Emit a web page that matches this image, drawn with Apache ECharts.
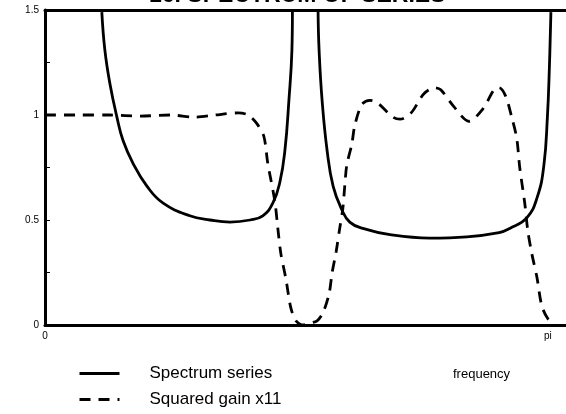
<!DOCTYPE html>
<html>
<head>
<meta charset="utf-8">
<script src="https://cdn.jsdelivr.net/npm/echarts@6/dist/echarts.min.js"></script>
<style>
  html, body { margin: 0; padding: 0; background: #fff; }
  #chart { width: 566px; height: 414px; }
</style>
</head>
<body>
<div id="chart"></div>
<script>
// frequency in units of pi
var spectrumFreq = [0.113, 0.119, 0.129, 0.143, 0.155, 0.175, 0.203, 0.235, 0.288, 0.328, 0.368, 0.408, 0.433, 0.453, 0.467, 0.477, 0.485, 0.491, 0.492,
  0.517,
  0.543, 0.545, 0.551, 0.561, 0.573, 0.590, 0.606, 0.632, 0.686, 0.765, 0.839, 0.903, 0.924, 0.958, 0.979, 0.992, 0.999, 1.003, 1.006];
var spectrumVals = [1.49, 1.31, 1.15, 0.99, 0.88, 0.77, 0.66, 0.58, 0.52, 0.50, 0.49, 0.50, 0.52, 0.58, 0.68, 0.83, 1.07, 1.31, 1.49,
  '-',
  1.49, 1.31, 1.07, 0.83, 0.66, 0.55, 0.49, 0.46, 0.43, 0.414, 0.42, 0.44, 0.46, 0.51, 0.61, 0.76, 0.99, 1.23, 1.49];

var gainFreq = [0, 0.070, 0.129, 0.189, 0.249, 0.298, 0.338, 0.384, 0.404, 0.421, 0.435, 0.443, 0.457, 0.463, 0.469, 0.479, 0.489, 0.499,
  0.513, 0.527, 0.541, 0.553, 0.565, 0.571, 0.579, 0.586, 0.592, 0.596, 0.600, 0.610, 0.616, 0.630, 0.646, 0.660, 0.692, 0.706,
  0.728, 0.753, 0.775, 0.787, 0.813, 0.843, 0.871, 0.893, 0.903, 0.916, 0.928, 0.938, 0.944, 0.954, 0.960, 0.968, 0.978, 0.988,
  1.000, 1.014];
var gainVals = [1.0, 1.0, 1.0, 0.995, 1.0, 0.99, 1.0, 1.01, 1.0, 0.96, 0.90, 0.77, 0.59, 0.46, 0.34, 0.22, 0.08, 0.02,
  0, 0.01, 0.02, 0.06, 0.15, 0.25, 0.35, 0.46, 0.55, 0.66, 0.76, 0.86, 0.95, 1.05, 1.07, 1.06, 0.99, 0.98,
  1.01, 1.10, 1.13, 1.12, 1.04, 0.97, 1.03, 1.12, 1.13, 1.09, 0.99, 0.89, 0.75, 0.58, 0.45, 0.34, 0.23, 0.09,
  0.03, 0];

var xTicks = [0, 1];
var xTickLabels = ['0', 'pi'];
var yTicks = [0, 0.5, 1, 1.5];
var yTickLabels = ['0', '0.5', '1', '1.5'];

function pairs(xs, ys) {
  return xs.map(function (x, i) { return [x, ys[i]]; });
}

var chart = echarts.init(document.getElementById('chart'));
var font = 'Liberation Sans, Arial, sans-serif';

var option = {
  animation: false,
  title: [{
    text: '16. SPECTRUM OF SERIES',
    left: 144,
    top: -21,
    textStyle: { fontFamily: font, fontWeight: 'bold', fontSize: 23, color: '#000' }
  }, {
    text: 'frequency',
    left: 448,
    top: 363,
    textStyle: { fontFamily: font, fontWeight: 'normal', fontSize: 13, color: '#000' }
  }],
  legend: {
    orient: 'vertical',
    left: 73,
    top: 360,
    itemWidth: 40,
    itemHeight: 14,
    itemGap: 9,
    itemStyle: { opacity: 0 },
    lineStyle: { width: 3 },
    textStyle: { fontFamily: font, fontSize: 17, color: '#000', padding: [0, 0, 0, 25] },
    data: ['Spectrum series', 'Squared gain x11']
  },
  grid: { left: 45, top: 10, right: 0, bottom: 89 },
  xAxis: [{
    type: 'value',
    min: 0,
    max: 1.036,
    interval: 1,
    splitLine: { show: false },
    axisTick: { show: false },
    axisLine: { lineStyle: { color: '#000', width: 3 } },
    axisLabel: {
      fontFamily: font, fontSize: 10, color: '#000', margin: 6, showMaxLabel: false,
      formatter: function (v) {
        var i = xTicks.indexOf(v);
        return i >= 0 ? xTickLabels[i] : '';
      }
    }
  }, {
    type: 'value',
    position: 'top',
    min: 0,
    max: 1.036,
    splitLine: { show: false },
    axisTick: { show: false },
    axisLabel: { show: false },
    axisLine: { show: true, lineStyle: { color: '#000', width: 3 } }
  }],
  yAxis: {
    type: 'value',
    min: 0,
    max: 1.5,
    interval: 0.25,
    splitLine: { show: false },
    axisLine: { show: true, lineStyle: { color: '#000', width: 3 } },
    axisTick: { show: true, inside: true, length: 5, lineStyle: { color: '#000', width: 1 } },
    axisLabel: {
      fontFamily: font, fontSize: 10, color: '#000', margin: 6,
      formatter: function (v) {
        var i = yTicks.indexOf(v);
        return i >= 0 ? yTickLabels[i] : '';
      }
    }
  },
  series: [{
    name: 'Spectrum series',
    type: 'line',
    data: pairs(spectrumFreq, spectrumVals),
    smooth: 0.45,
    showSymbol: false,
    symbol: 'none',
    connectNulls: false,
    itemStyle: { color: '#000' },
    lineStyle: { color: '#000', width: 2.8 }
  }, {
    name: 'Squared gain x11',
    type: 'line',
    data: pairs(gainFreq, gainVals),
    smooth: 0.3,
    showSymbol: false,
    symbol: 'none',
    itemStyle: { color: '#000' },
    lineStyle: { color: '#000', width: 2.8, type: [11, 8] }
  }]
};

chart.setOption(option);
</script>
</body>
</html>
